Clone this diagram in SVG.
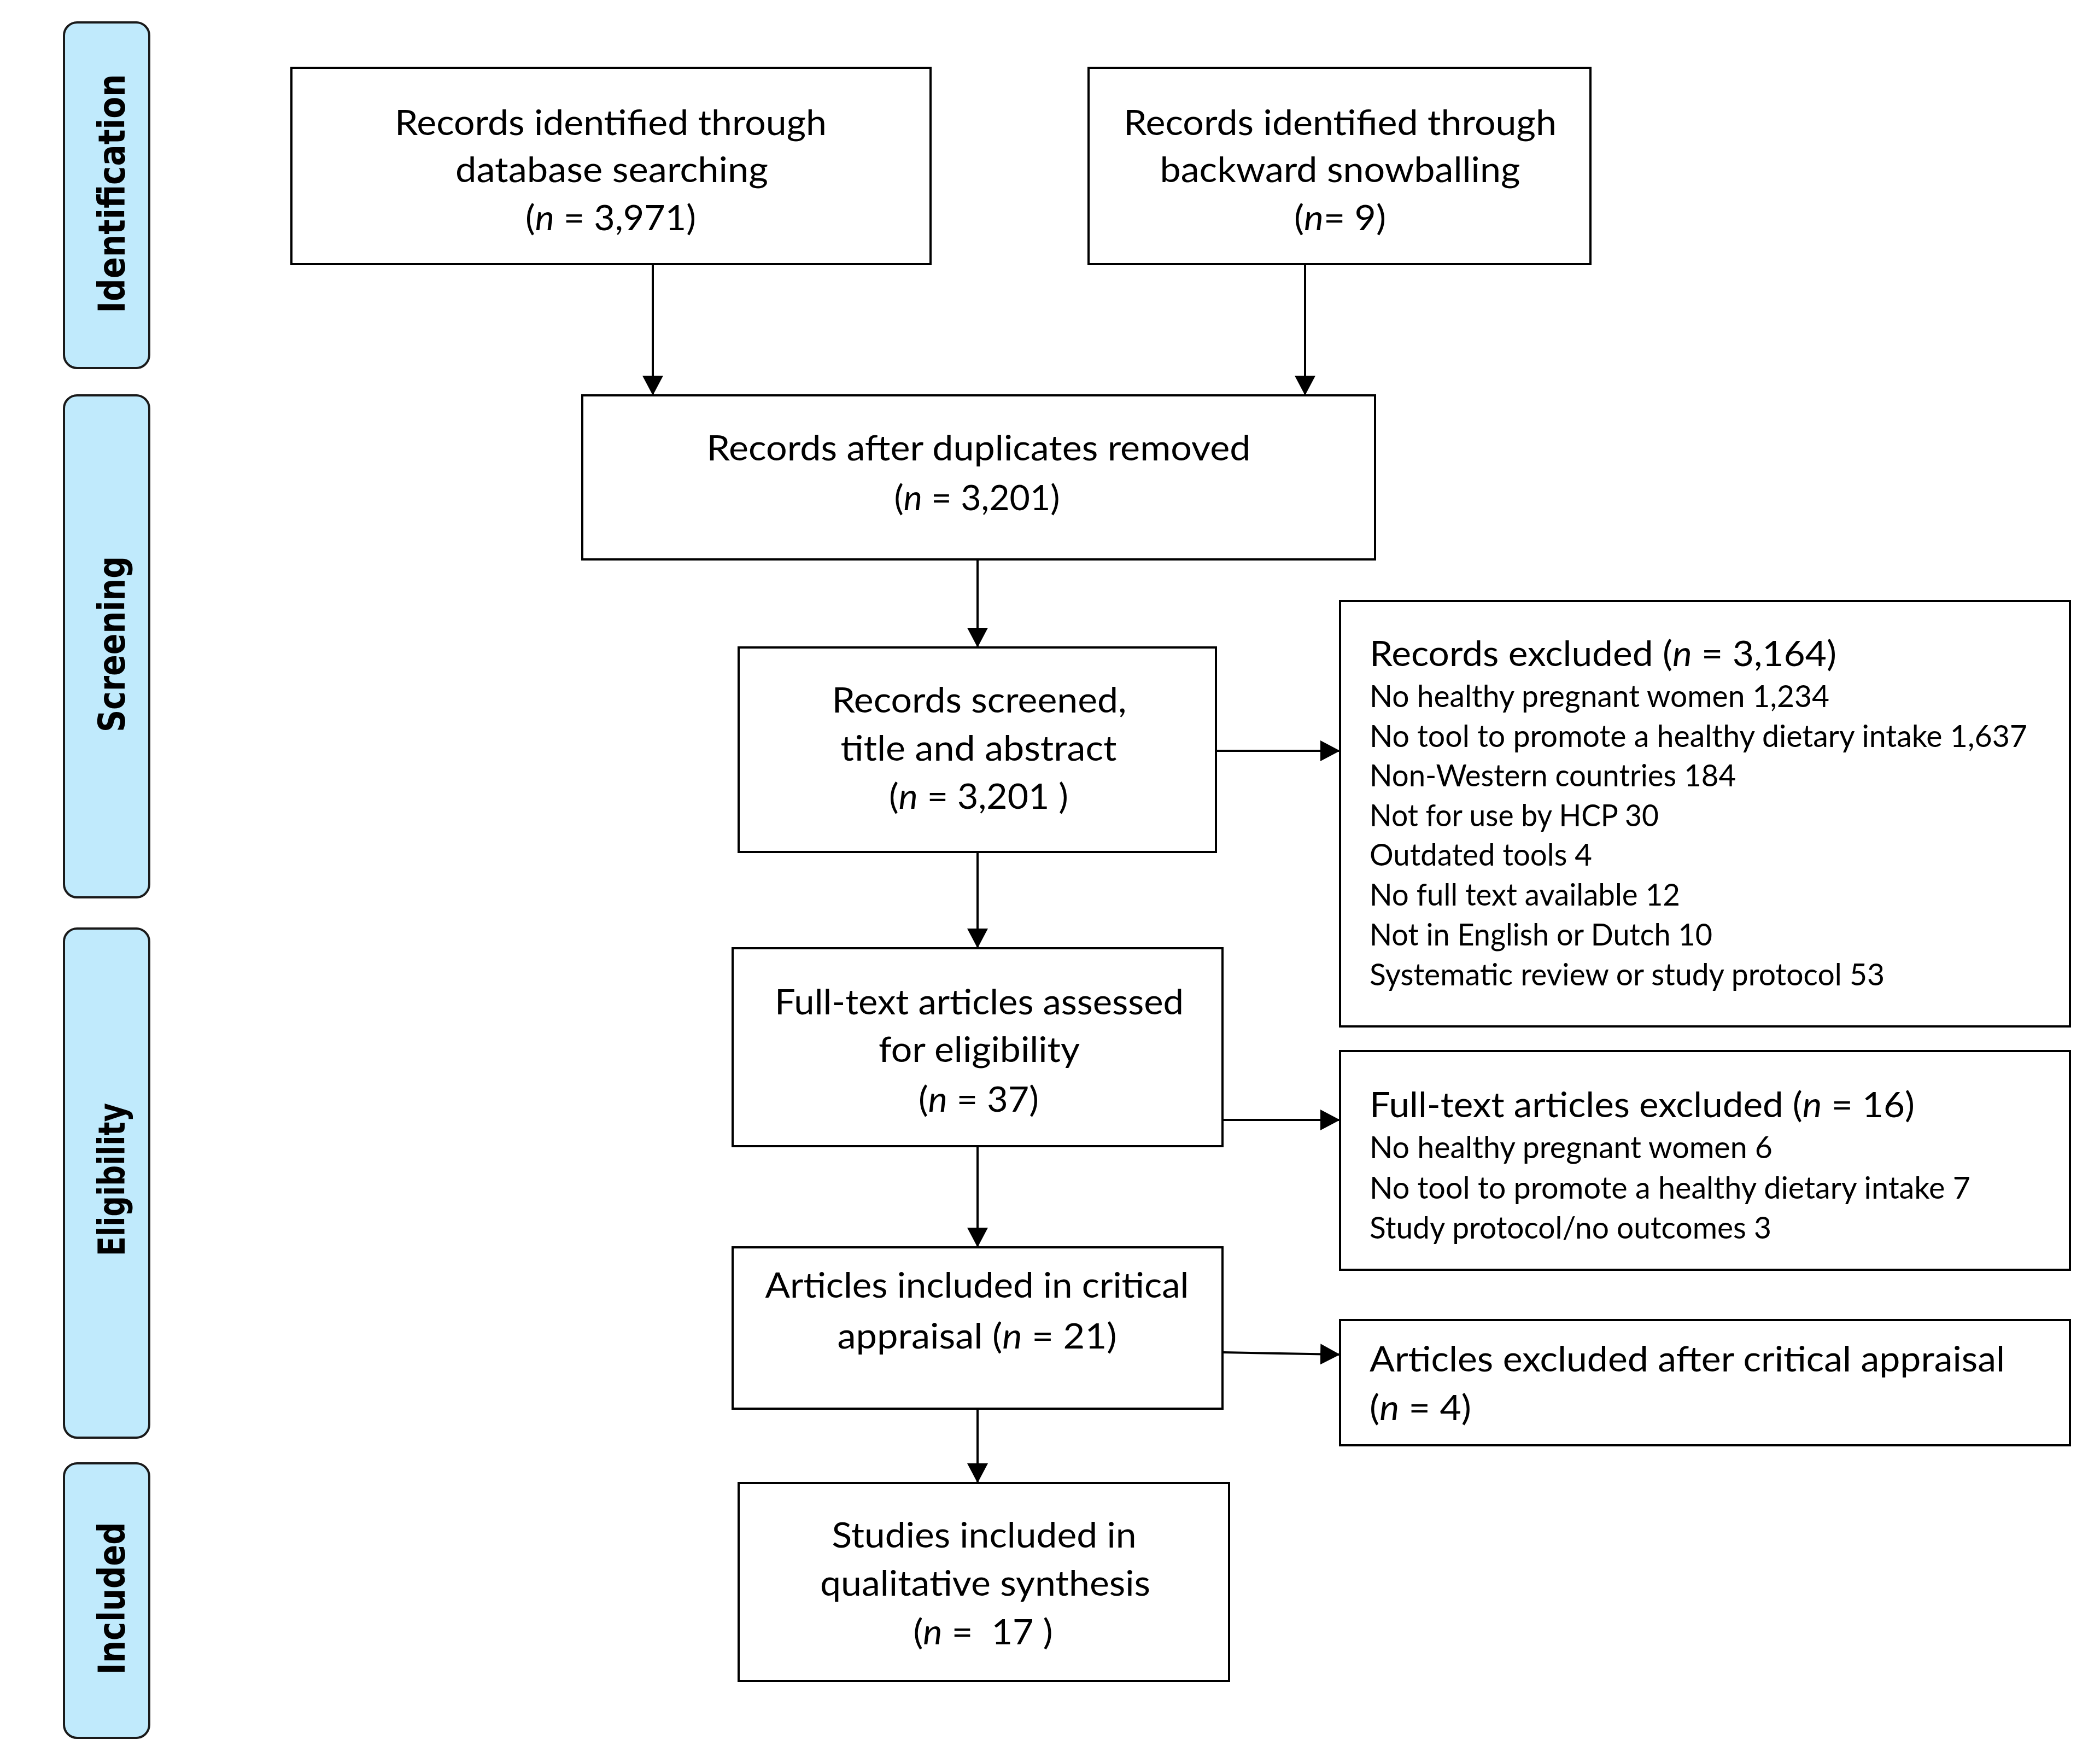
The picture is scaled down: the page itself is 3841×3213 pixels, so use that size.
<svg xmlns="http://www.w3.org/2000/svg" width="3841" height="3213" viewBox="0 0 3841 3213">
<style>
.bg{fill:#ffffff}
.side{fill:#c0eafc;stroke:#1a1a1a;stroke-width:4}
.sl{font-family:"DejaVu Sans","Liberation Sans",sans-serif;font-weight:bold;font-size:67px;fill:#000;text-anchor:middle}
.box{fill:#ffffff;stroke:#000;stroke-width:4}
.t{font-family:Lato,"Liberation Sans",sans-serif;font-size:64px;fill:#000;text-anchor:middle}
.h{font-family:Lato,"Liberation Sans",sans-serif;font-size:64px;fill:#000}
.s{font-family:Lato,"Liberation Sans",sans-serif;font-size:56px;fill:#000}
.i{font-style:italic}
.c{fill:none;stroke:#000;stroke-width:4}
</style>
<defs>
<marker id="ah" viewBox="0 0 36 38" refX="36" refY="19" markerWidth="36" markerHeight="38" markerUnits="userSpaceOnUse" orient="auto">
<path d="M0,0 L36,19 L0,38 Z" fill="#000"/>
</marker>
</defs>
<rect class="bg" x="0" y="0" width="3841" height="3213"/>

<g id="phase-identification">
<rect class="side" x="117" y="41" width="156" height="632" rx="24" ry="24"/>
<text class="sl" transform="translate(228,354) rotate(-90)" textLength="437" lengthAdjust="spacingAndGlyphs">Identification</text>
</g>
<g id="phase-screening">
<rect class="side" x="117" y="723" width="156" height="918" rx="24" ry="24"/>
<text class="sl" transform="translate(228,1178) rotate(-90)" textLength="322" lengthAdjust="spacingAndGlyphs">Screening</text>
</g>
<g id="phase-eligibility">
<rect class="side" x="117" y="1698" width="156" height="931" rx="24" ry="24"/>
<text class="sl" transform="translate(228,2157) rotate(-90)" textLength="280" lengthAdjust="spacingAndGlyphs">Eligibility</text>
</g>
<g id="phase-included">
<rect class="side" x="117" y="2676" width="156" height="502" rx="24" ry="24"/>
<text class="sl" transform="translate(228,2923) rotate(-90)" textLength="279" lengthAdjust="spacingAndGlyphs">Included</text>
</g>

<g id="connectors">
<line class="c" x1="1194" y1="483" x2="1194" y2="723" marker-end="url(#ah)"/>
<line class="c" x1="2387" y1="483" x2="2387" y2="723" marker-end="url(#ah)"/>
<line class="c" x1="1788" y1="1023" x2="1788" y2="1184" marker-end="url(#ah)"/>
<line class="c" x1="2224" y1="1373" x2="2451" y2="1373" marker-end="url(#ah)"/>
<line class="c" x1="1788" y1="1558" x2="1788" y2="1734" marker-end="url(#ah)"/>
<line class="c" x1="2236" y1="2048" x2="2451" y2="2048" marker-end="url(#ah)"/>
<line class="c" x1="1788" y1="2096" x2="1788" y2="2281" marker-end="url(#ah)"/>
<line class="c" x1="2236" y1="2473" x2="2451" y2="2477" marker-end="url(#ah)"/>
<line class="c" x1="1788" y1="2576" x2="1788" y2="2712" marker-end="url(#ah)"/>
</g>

<g id="n-database">
<rect class="box" x="533" y="124" width="1169" height="359"/>
<text class="t" x="1117" y="247" textLength="790" lengthAdjust="spacingAndGlyphs">Records identified through</text>
<text class="t" x="1119" y="333" textLength="572" lengthAdjust="spacingAndGlyphs">database searching</text>
<text class="t" x="1117" y="421" textLength="312" lengthAdjust="spacingAndGlyphs">(<tspan class="i">n</tspan> = 3,971)</text>
</g>
<g id="n-snowball">
<rect class="box" x="1991" y="124" width="918" height="359"/>
<text class="t" x="2451" y="247" textLength="792" lengthAdjust="spacingAndGlyphs">Records identified through</text>
<text class="t" x="2451" y="333" textLength="659" lengthAdjust="spacingAndGlyphs">backward snowballing</text>
<text class="t" x="2451" y="421" textLength="168" lengthAdjust="spacingAndGlyphs">(<tspan class="i">n</tspan>= 9)</text>
</g>
<g id="n-duplicates">
<rect class="box" x="1065" y="723" width="1450" height="300"/>
<text class="t" x="1790" y="842" textLength="995" lengthAdjust="spacingAndGlyphs">Records after duplicates removed</text>
<text class="t" x="1787" y="933" textLength="303" lengthAdjust="spacingAndGlyphs">(<tspan class="i">n</tspan> = 3,201)</text>
</g>
<g id="n-screened">
<rect class="box" x="1351" y="1184" width="873" height="374"/>
<text class="t" x="1791" y="1303" textLength="539" lengthAdjust="spacingAndGlyphs">Records screened,</text>
<text class="t" x="1790" y="1391" textLength="505" lengthAdjust="spacingAndGlyphs">title and abstract</text>
<text class="t" x="1790" y="1479" textLength="328" lengthAdjust="spacingAndGlyphs">(<tspan class="i">n</tspan> = 3,201 )</text>
</g>
<g id="n-fulltext">
<rect class="box" x="1340" y="1734" width="896" height="362"/>
<text class="t" x="1791" y="1855" textLength="748" lengthAdjust="spacingAndGlyphs">Full-text articles assessed</text>
<text class="t" x="1791" y="1942" textLength="368" lengthAdjust="spacingAndGlyphs">for eligibility</text>
<text class="t" x="1790" y="2033" textLength="220" lengthAdjust="spacingAndGlyphs">(<tspan class="i">n</tspan> = 37)</text>
</g>
<g id="n-appraisal">
<rect class="box" x="1340" y="2281" width="896" height="295"/>
<text class="t" x="1787" y="2373" textLength="775" lengthAdjust="spacingAndGlyphs">Articles included in critical</text>
<text class="t" x="1787" y="2466" textLength="511" lengthAdjust="spacingAndGlyphs">appraisal (<tspan class="i">n</tspan> = 21)</text>
</g>
<g id="n-included">
<rect class="box" x="1351" y="2712" width="897" height="362"/>
<text class="t" x="1800" y="2830" textLength="557" lengthAdjust="spacingAndGlyphs">Studies included in</text>
<text class="t" x="1802" y="2918" textLength="604" lengthAdjust="spacingAndGlyphs">qualitative synthesis</text>
<text class="t" x="1798" y="3007" textLength="255" lengthAdjust="spacingAndGlyphs">(<tspan class="i">n</tspan> =&#160; 17 )</text>
</g>
<g id="n-excluded-records">
<rect class="box" x="2451" y="1099" width="1335" height="778"/>
<text class="h" x="2505" y="1218" textLength="854" lengthAdjust="spacingAndGlyphs">Records excluded (<tspan class="i">n</tspan> = 3,164)</text>
<text class="s" x="2505" y="1293" textLength="841" lengthAdjust="spacingAndGlyphs">No healthy pregnant women 1,234</text>
<text class="s" x="2505" y="1366" textLength="1203" lengthAdjust="spacingAndGlyphs">No tool to promote a healthy dietary intake 1,637</text>
<text class="s" x="2505" y="1438" textLength="670" lengthAdjust="spacingAndGlyphs">Non-Western countries 184</text>
<text class="s" x="2505" y="1511" textLength="529" lengthAdjust="spacingAndGlyphs">Not for use by HCP 30</text>
<text class="s" x="2505" y="1583" textLength="407" lengthAdjust="spacingAndGlyphs">Outdated tools 4</text>
<text class="s" x="2505" y="1656" textLength="568" lengthAdjust="spacingAndGlyphs">No full text available 12</text>
<text class="s" x="2505" y="1729" textLength="627" lengthAdjust="spacingAndGlyphs">Not in English or Dutch 10</text>
<text class="s" x="2505" y="1802" textLength="942" lengthAdjust="spacingAndGlyphs">Systematic review or study protocol 53</text>
</g>
<g id="n-excluded-fulltext">
<rect class="box" x="2451" y="1922" width="1335" height="400"/>
<text class="h" x="2505" y="2043" textLength="997" lengthAdjust="spacingAndGlyphs">Full-text articles excluded (<tspan class="i">n</tspan> = 16)</text>
<text class="s" x="2505" y="2118" textLength="737" lengthAdjust="spacingAndGlyphs">No healthy pregnant women 6</text>
<text class="s" x="2505" y="2192" textLength="1099" lengthAdjust="spacingAndGlyphs">No tool to promote a healthy dietary intake 7</text>
<text class="s" x="2505" y="2265" textLength="735" lengthAdjust="spacingAndGlyphs">Study protocol/no outcomes 3</text>
</g>
<g id="n-excluded-appraisal">
<rect class="box" x="2451" y="2414" width="1335" height="229"/>
<text class="h" x="2505" y="2508" textLength="1162" lengthAdjust="spacingAndGlyphs">Articles excluded after critical appraisal</text>
<text class="h" x="2505" y="2597" textLength="186" lengthAdjust="spacingAndGlyphs">(<tspan class="i">n</tspan> = 4)</text>
</g>
</svg>
